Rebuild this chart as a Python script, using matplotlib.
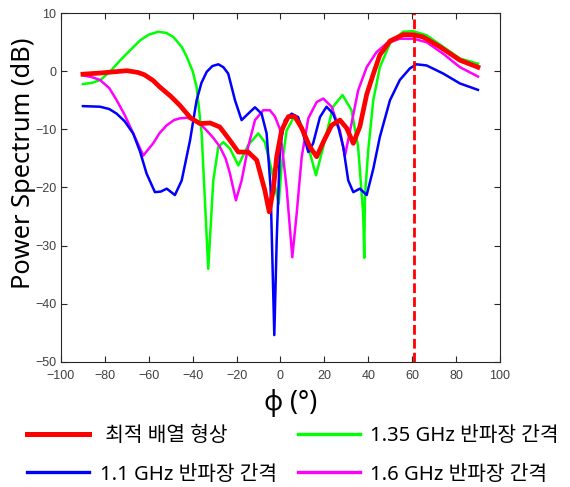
import matplotlib
matplotlib.use("Agg")
import matplotlib.pyplot as plt

plt.rcParams['font.family'] = ['Noto Sans', 'Noto Sans CJK KR', 'DejaVu Sans']

# angle (deg) and power (dB)
phi_opt = [-90, -82, -76, -70, -65, -62, -58, -55, -50, -46, -41, -36.7, -32, -27.6, -23, -19.2,
           -14.7, -10.8, -7.1, -5.1, -3.3, -1.7, 0.5, 3.6, 6.6, 9.7, 13.4, 16.5, 19.5, 23.3, 27.1,
           30.2, 33.2, 36.2, 39.3, 42.3, 45.3, 49.9, 55.9, 60.5, 65, 72.7, 81.8, 90]
db_opt = [-0.5, -0.3, -0.1, 0.1, -0.2, -0.6, -1.6, -2.7, -4.3, -5.8, -8.0, -9.0, -8.9, -9.6,
          -11.9, -13.9, -13.9, -15.3, -20.5, -24.2, -20.5, -14.7, -10.2, -7.8, -7.8, -9.8, -13.0,
          -14.7, -12.2, -9.3, -8.4, -9.8, -12.4, -9.5, -4.0, -0.5, 2.8, 5.2, 6.3, 6.3, 5.9, 4.2,
          1.9, 0.7]

phi_135 = [-90, -86, -82, -77, -73, -68, -64, -60, -55.7, -52, -48.8, -45, -42.7, -40, -38.2,
           -35.9, -32.9, -30.6, -28.3, -26, -23, -19.2, -14.7, -10.1, -7.1, -4.0, -0.8, 0.5, 2.8,
           5.8, 8.9, 12.7, 16.2, 19.5, 24, 28.3, 32.4, 35.4, 37.7, 38.2, 38.5, 40, 42.3, 45.3,
           49.9, 55.9, 60.5, 66.6, 74.2, 81.8, 90]
db_135 = [-2.2, -2.0, -1.5, 0.2, 1.9, 3.8, 5.3, 6.3, 6.8, 6.6, 5.9, 4.2, 2.5, 0.0, -2.7, -10.7,
          -34.0, -18.8, -13.0, -12.2, -13.3, -16.2, -12.7, -10.7, -12.2, -17.0, -22.8, -16.5,
          -10.2, -8.1, -8.7, -13.0, -17.9, -13.0, -6.1, -4.1, -6.7, -13.0, -24.5, -32.1, -21.6,
          -13.6, -5.0, 0.7, 4.8, 6.8, 6.9, 6.2, 4.2, 2.2, 1.3]

phi_11 = [-90, -82.2, -78, -74.6, -71, -67.1, -64, -61, -57.2, -54.5, -51.8, -48.1, -45, -41.2,
          -38.2, -36, -33.6, -31, -28.3, -26, -23.8, -20.7, -17.7, -14.7, -11.6, -8.6, -6.3, -4.5,
          -2.8, -1.7, -0.2, 2, 5.1, 8.1, 11.2, 12.7, 14.9, 18, 21, 24, 26.5, 28.6, 30.9, 33.2,
          36.2, 39.3, 42.3, 45.3, 49.9, 54.4, 59, 62, 66.6, 74.2, 81.8, 90]
db_11 = [-6.0, -6.1, -6.5, -7.3, -8.6, -10.7, -13.8, -17.6, -20.8, -20.7, -20.2, -21.3, -18.8,
         -11.9, -5.0, -2.0, -0.1, 0.9, 1.2, 0.7, -0.4, -5.0, -8.4, -7.3, -6.2, -7.3, -10.7, -20.0,
         -45.4, -29.0, -13.0, -8.4, -7.3, -7.9, -11.9, -13.9, -12.4, -7.9, -6.1, -7.3, -9.8,
         -13.0, -18.8, -20.8, -20.2, -21.3, -16.8, -11.3, -5.0, -1.5, 0.5, 1.2, 1.0, -0.4, -2.1,
         -3.2]

phi_16 = [-90, -86, -82.2, -78, -74.6, -71, -67.1, -62.5, -58, -55, -51.8, -48.5, -45.8, -42.5,
          -39.7, -36.5, -33.6, -30.5, -27.6, -25, -23, -20.3, -17.7, -14.7, -11.6, -7.8, -4.8,
          -2.5, -0.2, 2.8, 5.4, 7.4, 9.7, 12.7, 16.5, 19.5, 23.3, 27.1, 29.4, 32.4, 35.4, 39.3,
          43.8, 48.4, 54.4, 60.5, 66.6, 74.2, 81.8, 90]
db_16 = [-0.7, -1.0, -1.5, -2.9, -5.0, -7.5, -10.7, -14.5, -12.4, -10.6, -9.3, -8.4, -8.1, -8.0,
         -8.4, -9.1, -10.2, -11.5, -13.0, -15.0, -17.6, -22.2, -18.8, -13.0, -8.4, -6.7, -6.7,
         -7.8, -10.0, -20.0, -32.0, -24.5, -14.7, -8.1, -5.3, -4.7, -6.1, -10.2, -14.5, -9.0,
         -3.3, 0.7, 3.3, 4.8, 5.6, 5.6, 5.0, 3.0, 0.7, -0.9]

steer_angle = 61

labels = [' 최적 배열 형상', '1.1 GHz 반파장 간격', '1.35 GHz 반파장 간격', '1.6 GHz 반파장 간격']

fig = plt.figure(figsize=(5.7, 4.87), dpi=100)
ax = fig.add_axes([0.107, 0.257, 0.77, 0.716])

l_g, = ax.plot(phi_135, db_135, color='#00ff00', lw=1.8)
l_m, = ax.plot(phi_16, db_16, color='#ff00ff', lw=1.8)
l_b, = ax.plot(phi_11, db_11, color='#0000ff', lw=1.8)
l_r, = ax.plot(phi_opt, db_opt, color='#ff0000', lw=3.4)
ax.axvline(steer_angle, color='#ff0000', lw=2, ls=(0, (3.5, 1.5)))

ax.set_xlim(-100, 100)
ax.set_ylim(-50, 10)
ax.set_xticks(range(-100, 101, 20))
ax.set_yticks(range(-50, 11, 10))
ax.tick_params(direction='in', top=True, right=True, length=4, width=0.8,
               colors='#262626', labelcolor='#404040')
ax.tick_params(axis='x', pad=6)
for lab in ax.get_xticklabels() + ax.get_yticklabels():
    lab.set_family('Liberation Sans')
    lab.set_fontsize(9)
for s in ax.spines.values():
    s.set_color('#262626')
    s.set_linewidth(0.8)

ax.set_xlabel('ϕ (°)', fontsize=19, labelpad=0)
ax.xaxis.set_label_coords(0.524, -0.077)
ax.set_ylabel('Power Spectrum (dB)', fontsize=18.3, labelpad=0)
ax.yaxis.set_label_coords(-0.058, 0.57)

leg = fig.legend([l_r, l_b, l_g, l_m], labels, ncol=2, loc='lower left',
                 bbox_to_anchor=(27 / 570, 0.005), frameon=False, fontsize=14.6,
                 borderpad=0, borderaxespad=0,
                 handlelength=3.05, handletextpad=0.53, columnspacing=1.05, labelspacing=0.93)
for h, w in zip(leg.get_lines(), [3.6, 2.4, 2.4, 2.4]):
    h.set_linewidth(w)

fig.savefig('out.png', dpi=100)
